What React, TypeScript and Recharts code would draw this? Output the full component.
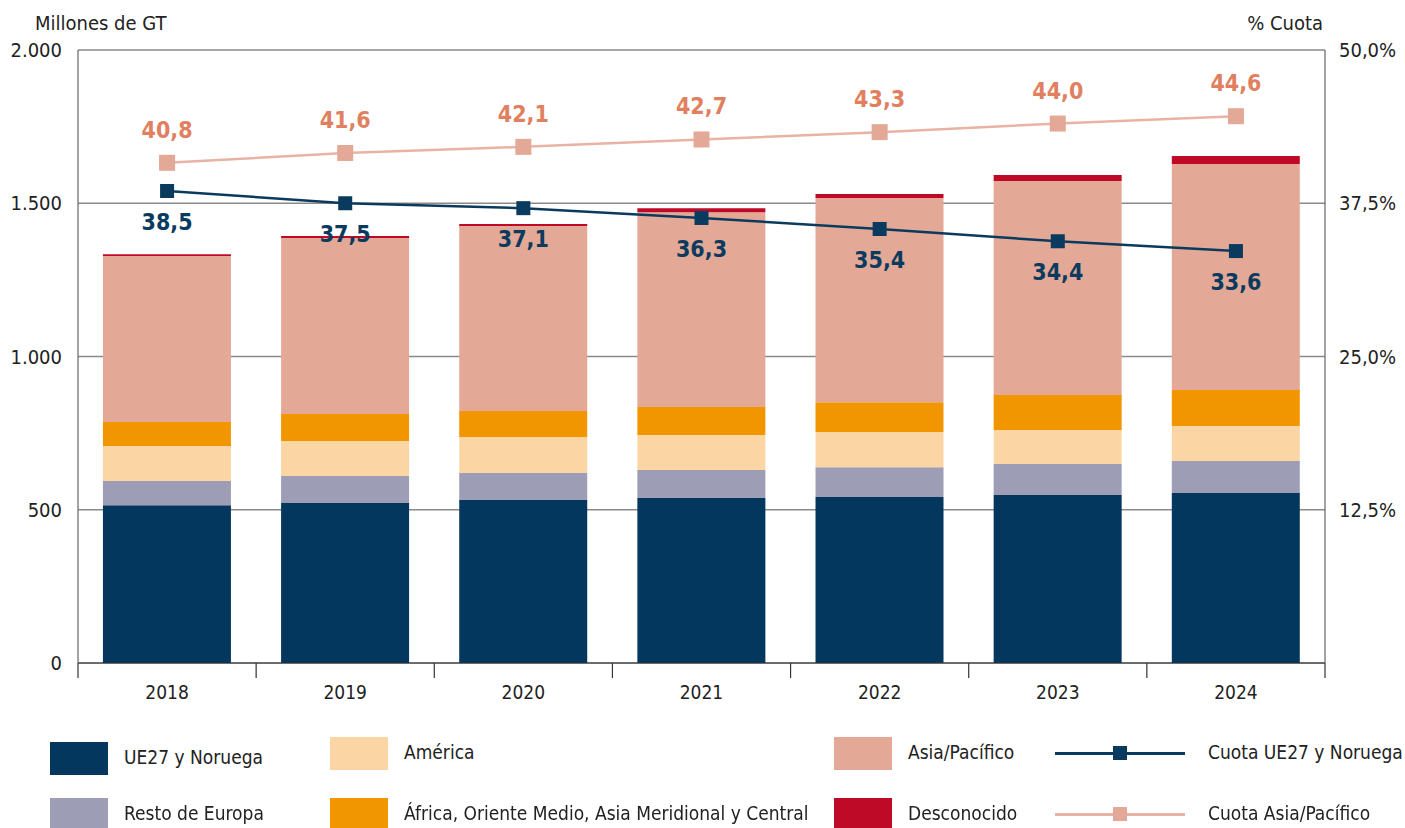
import { Bar, ComposedChart, CartesianGrid, LabelList, Line, XAxis, YAxis } from "recharts";

const FONT = "'Liberation Sans Narrow', 'DejaVu Sans Condensed', 'Open Sans', sans-serif";

const years = ["2018", "2019", "2020", "2021", "2022", "2023", "2024"];
const ue27Noruega = [515, 522, 532, 538, 542, 548, 555];
const restoEuropa = [79, 88, 88, 92, 97, 101, 104];
const america = [114, 114, 117, 114, 115, 111, 114];
const africaOriente = [78, 88, 85, 91, 97, 114, 118];
const asiaPacifico = [542, 575, 604, 636, 666, 699, 737];
const desconocido = [6, 6, 6, 13, 13, 19, 26];
const cuotaUE = [38.5, 37.5, 37.1, 36.3, 35.4, 34.4, 33.6];
const cuotaAsia = [40.8, 41.6, 42.1, 42.7, 43.3, 44.0, 44.6];
const leftTicks = [0, 500, 1000, 1500, 2000];
const rightTicks = [12.5, 25, 37.5, 50];

const C = {
  ue: "#03375E",
  resto: "#9D9EB6",
  america: "#FBD6A4",
  africa: "#F29600",
  asia: "#E3A996",
  desc: "#BE0A26",
  ueLine: "#0B3A5F",
  asiaLine: "#E9B3A3",
  asiaLabel: "#E0805F",
};

const data = years.map((year, i) => ({
  year,
  ue: ue27Noruega[i],
  resto: restoEuropa[i],
  america: america[i],
  africa: africaOriente[i],
  asia: asiaPacifico[i],
  desc: desconocido[i],
  cuotaUE: cuotaUE[i],
  cuotaAsia: cuotaAsia[i],
}));

const fmtComma = (v: number) => v.toFixed(1).replace(".", ",");
const fmtThousands = (v: number) => v.toLocaleString("de-DE");

function YearTick(props: any) {
  const { x, y, payload, index, visibleTicksCount } = props;
  const half = payload?.offset ?? 89;
  return (
    <g>
      <line x1={x - half} y1={y} x2={x - half} y2={y + 15} stroke="#333" strokeWidth={1.2} />
      {index === visibleTicksCount - 1 && (
        <line x1={x + half} y1={y} x2={x + half} y2={y + 15} stroke="#333" strokeWidth={1.2} />
      )}
      <text x={x} y={y + 36} textAnchor="middle" fontSize={19} fill="#222" fontFamily={FONT}>
        {payload.value}
      </text>
    </g>
  );
}

function shareLabel(color: string, dy: number) {
  return (p: any) => (
    <text
      x={p.x}
      y={p.y + dy}
      textAnchor="middle"
      fontSize={23}
      fontWeight="bold"
      fill={color}
      fontFamily={FONT}
    >
      {fmtComma(p.value)}
    </text>
  );
}

function LegendSwatch({ color, text, left, top }: { color: string; text: string; left: number; top: number }) {
  return (
    <>
      <div style={{ position: "absolute", left, top, width: 58, height: 33, background: color }} />
      <div style={{ position: "absolute", left: left + 74, top: top + 4, fontSize: 19, color: "#222" }}>{text}</div>
    </>
  );
}

function LegendLine({ color, marker, text, top }: { color: string; marker: string; text: string; top: number }) {
  return (
    <>
      <div style={{ position: "absolute", left: 1055, top: top + 15, width: 130, height: 3, background: color }} />
      <div style={{ position: "absolute", left: 1113, top: top + 9, width: 14, height: 14, background: marker }} />
      <div style={{ position: "absolute", left: 1208, top: top + 4, fontSize: 19, color: "#222" }}>{text}</div>
    </>
  );
}

export default function App() {
  return (
    <div style={{ position: "fixed", left: 0, top: 0, width: 1405, height: 828, background: "#fff", fontFamily: FONT }}>
      <div style={{ position: "absolute", left: 35, top: 11, fontSize: 20, color: "#222" }}>Millones de GT</div>
      <div style={{ position: "absolute", right: 82, top: 11, fontSize: 20, color: "#222" }}>% Cuota</div>
      <ComposedChart width={1405} height={705} data={data} margin={{ top: 50, right: 0, bottom: 0, left: 0 }} barCategoryGap="14%">
        <CartesianGrid vertical={false} stroke="#8a8a8a" strokeWidth={1.5} yAxisId="left" />
        <XAxis
          dataKey="year"
          height={42}
          tickLine={false}
          tickSize={0}
          tickMargin={0}
          axisLine={{ stroke: "#333", strokeWidth: 1.2 }}
          tick={<YearTick />}
          interval={0}
        />
        <YAxis
          yAxisId="left"
          width={78}
          domain={[0, 2000]}
          ticks={leftTicks}
          tickFormatter={fmtThousands}
          tickLine={false}
          tickMargin={10}
          axisLine={{ stroke: "#666", strokeWidth: 1.2 }}
          tick={{ fontSize: 20, fill: "#222", fontFamily: FONT }}
        />
        <YAxis
          yAxisId="right"
          orientation="right"
          width={80}
          domain={[0, 50]}
          ticks={rightTicks}
          tickFormatter={(v: number) => fmtComma(v) + "%"}
          tickLine={false}
          tickMargin={8}
          axisLine={{ stroke: "#666", strokeWidth: 1.2 }}
          tick={{ fontSize: 20, fill: "#222", fontFamily: FONT }}
        />
        <Bar yAxisId="left" dataKey="ue" stackId="a" fill={C.ue} isAnimationActive={false} />
        <Bar yAxisId="left" dataKey="resto" stackId="a" fill={C.resto} isAnimationActive={false} />
        <Bar yAxisId="left" dataKey="america" stackId="a" fill={C.america} isAnimationActive={false} />
        <Bar yAxisId="left" dataKey="africa" stackId="a" fill={C.africa} isAnimationActive={false} />
        <Bar yAxisId="left" dataKey="asia" stackId="a" fill={C.asia} isAnimationActive={false} />
        <Bar yAxisId="left" dataKey="desc" stackId="a" fill={C.desc} isAnimationActive={false} />
        <Line
          yAxisId="right"
          dataKey="cuotaAsia"
          stroke={C.asiaLine}
          strokeWidth={2.5}
          dot={(p: any) => <rect key={p.index} x={p.cx - 8} y={p.cy - 8} width={16} height={16} fill={C.asia} />}
          isAnimationActive={false}
        >
          <LabelList dataKey="cuotaAsia" content={shareLabel(C.asiaLabel, -25)} />
        </Line>
        <Line
          yAxisId="right"
          dataKey="cuotaUE"
          stroke={C.ueLine}
          strokeWidth={2.5}
          dot={(p: any) => <rect key={p.index} x={p.cx - 7} y={p.cy - 7} width={14} height={14} fill={C.ueLine} />}
          isAnimationActive={false}
        >
          <LabelList dataKey="cuotaUE" content={shareLabel(C.ueLine, 39)} />
        </Line>
      </ComposedChart>
      <LegendSwatch color={C.ue} text="UE27 y Noruega" left={50} top={742} />
      <LegendSwatch color={C.america} text="América" left={330} top={737} />
      <LegendSwatch color={C.asia} text="Asia/Pacífico" left={834} top={737} />
      <LegendLine color={C.ueLine} marker={C.ueLine} text="Cuota UE27 y Noruega" top={737} />
      <LegendSwatch color={C.resto} text="Resto de Europa" left={50} top={798} />
      <LegendSwatch color={C.africa} text="África, Oriente Medio, Asia Meridional y Central" left={330} top={798} />
      <LegendSwatch color={C.desc} text="Desconocido" left={834} top={798} />
      <LegendLine color={C.asiaLine} marker={C.asia} text="Cuota Asia/Pacífico" top={798} />
    </div>
  );
}
